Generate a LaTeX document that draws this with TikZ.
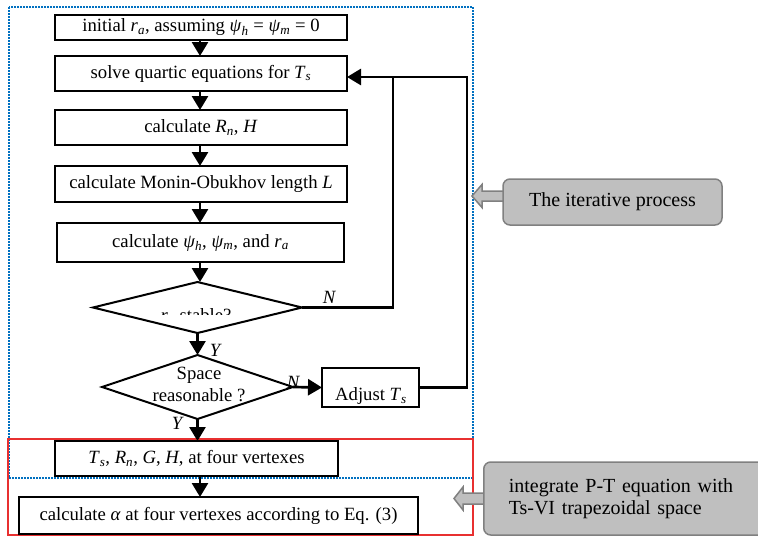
\documentclass[tikz,border=0pt]{standalone}
\usepackage{fontspec}
\setmainfont{Liberation Serif}
\usetikzlibrary{arrows.meta,shapes.geometric,calc}
\newcommand\isub[1]{\textsubscript{\itshape #1}}
\definecolor{dotblue}{RGB}{0,112,192}
\definecolor{frred}{RGB}{232,48,48}
\definecolor{callfill}{RGB}{191,191,191}
\definecolor{calldraw}{RGB}{128,128,128}
\begin{document}
\begin{tikzpicture}[x=1pt,y=-1pt,
  font=\fontsize{18.7}{22}\selectfont,
  box/.style={draw,line width=2pt,inner sep=1pt,outer sep=0pt},
  dia/.style={draw,diamond,line width=2pt,inner sep=0pt,outer sep=0pt},
  con/.style={line width=2.7pt},
  arr/.style={con,-{Triangle[length=14pt,width=16pt]}},
  lab/.style={font=\fontsize{18.7}{22}\selectfont\itshape,inner sep=0pt},
  txt/.style={inner sep=0pt},
  call/.style={draw=calldraw,fill=callfill,line width=1.5pt,rounded corners=7pt,font=\fontsize{20}{22}\selectfont},
  blockarr/.style={draw=calldraw,fill=callfill,line width=1.5pt}
]
\useasboundingbox (0,0) rectangle (758,536);
% frames
\draw[dotblue,line width=2pt,dash pattern=on 2pt off 1pt] (9,7) rectangle (473,478);
\draw[frred,line width=1.5pt] (8,439) rectangle (473,535);
% boxes
\node[box,minimum width=292pt,minimum height=25pt] (b1) at (201,27.5) {initial \textit{r}\isub{a}, assuming \textit{ψ}\isub{h} = \textit{ψ}\isub{m} = 0};
\node[box,minimum width=292pt,minimum height=35pt] (b2) at (201,73.5) {solve quartic equations for \textit{T}\isub{s}};
\node[box,minimum width=292pt,minimum height=35pt] (b3) at (201,127.5) {calculate \textit{R}\isub{n}, \textit{H}};
\node[box,minimum width=292pt,minimum height=36pt] (b4) at (201,184) {calculate Monin-Obukhov length \textit{L}};
\node[box,minimum width=287pt,minimum height=39pt] (b5) at (200.5,242.5) {calculate \textit{ψ}\isub{h}, \textit{ψ}\isub{m}, and \textit{r}\isub{a}};
\node[dia,minimum width=209pt,minimum height=51pt] (d1) at (197.5,307.5) {};
\node[dia,minimum width=191pt,minimum height=64pt] (d2) at (197.5,387) {};
\node[box,minimum width=97pt,minimum height=39pt] (adj) at (370.5,387.5) {};
\node[box,minimum width=283pt,minimum height=35pt] (b6) at (196.5,458.5) {\textit{T}\isub{s}, \textit{R}\isub{n}, \textit{G}, \textit{H}, at four vertexes};
\node[box,minimum width=399pt,minimum height=37pt] (b7) at (218.5,515.5) {calculate \textit{α} at four vertexes according to Eq. (3)};
% texts inside shapes
\begin{scope}
\clip (140,295) rectangle (260,314);
\node[txt,anchor=base] (d1t) at (196,321) {\textit{r}\isub{a} stable?};
\end{scope}
\node[txt,align=center] (d2t) at (199,384) {Space\\reasonable ?};
\node[txt] (adjt) at (371,396) {Adjust \textit{T}\isub{s}};
% connectors
\coordinate (ax) at (200,0);
\coordinate (c1) at (393,77);
\coordinate (c2) at (467,77);
\draw[arr] (b1.south -| ax) -- (b2.north -| ax);
\draw[arr] (b2.south -| ax) -- (b3.north -| ax);
\draw[arr] (b3.south -| ax) -- (b4.north -| ax);
\draw[arr] (b4.south -| ax) -- (b5.north -| ax);
\draw[arr] (b5.south -| ax) -- (d1.north -| ax);
\draw[arr] (d1.south) -- (d2.north);
\draw[arr] (d2.south) -- (b6.north -| d2.south);
\draw[arr] (b6.south -| ax) -- (b7.north -| ax);
\draw[arr] (d2.east) -- (adj.west);
\draw[con] (d1.east) -| (c1);
\draw[arr] (adj.east) -| (c2) -- (c2 -| b2.east);
% labels
\node[lab] (n1) at (329,297) {N};
\node[lab] (y1) at (215,350) {Y};
\node[lab] (n2) at (293,382) {N};
\node[lab] (y2) at (177,423) {Y};
% callouts
\draw[blockarr] (472,196) -- (482,184.5) -- (482,191) -- (505,191) -- (505,201) -- (482,201) -- (482,207.5) -- cycle;
\node[call,minimum width=219pt,minimum height=46pt] (call1) at (612.5,202) {The iterative process};
\draw[blockarr] (454,498.5) -- (463,487) -- (463,493) -- (485,493) -- (485,504) -- (463,504) -- (463,510) -- cycle;
\node[call,anchor=west,minimum height=73pt,inner xsep=25pt,text width=260pt,align=left] (call2) at (483,498.5) {integrate P-T equation with\\Ts-VI trapezoidal space};
\end{tikzpicture}
\end{document}
